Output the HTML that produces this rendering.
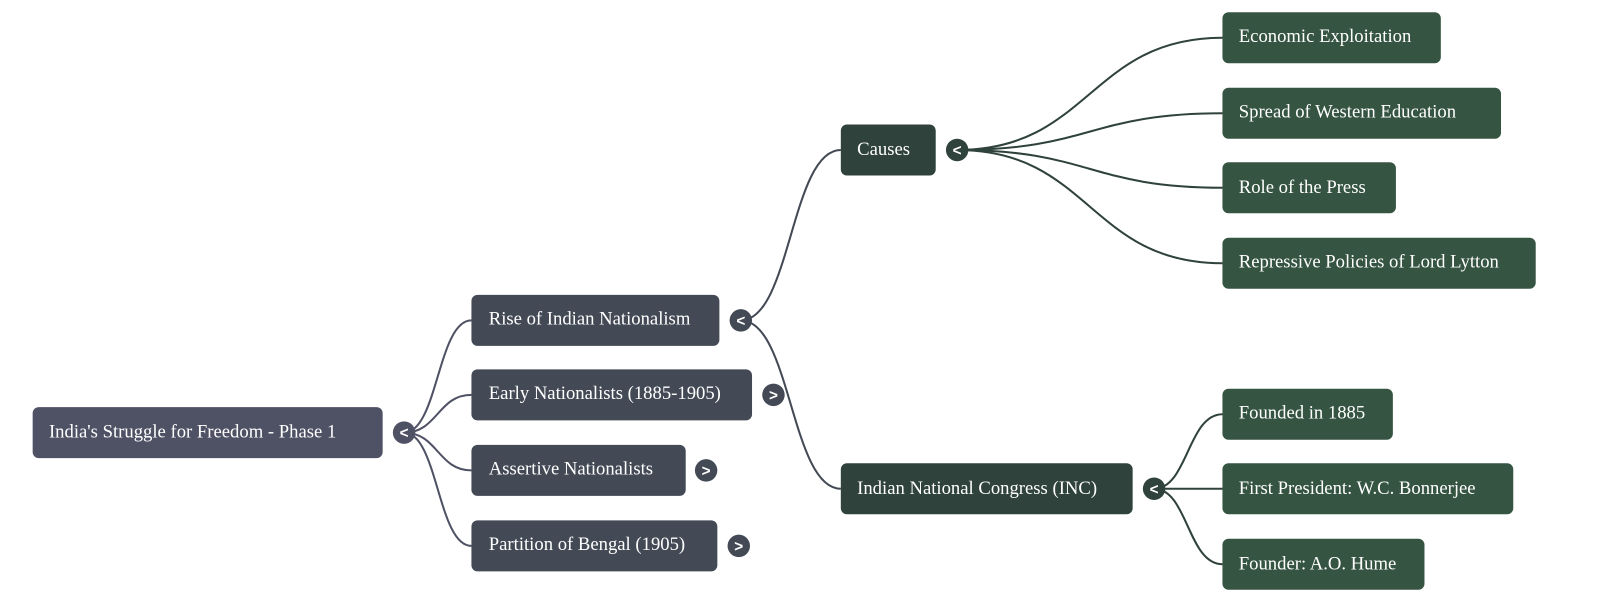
<!DOCTYPE html>
<html><head><meta charset="utf-8"><style>
html,body{margin:0;padding:0;background:#fff;width:1600px;height:602px;overflow:hidden}
svg text.t{font-family:"Liberation Serif","DejaVu Serif","Times New Roman",serif;font-size:18.3px;fill:#fff}
.c{font-family:"Liberation Sans",sans-serif;font-size:15px;font-weight:bold;fill:#fff}
</style></head><body>
<svg width="1600" height="602" viewBox="0 0 1568 590" preserveAspectRatio="none" xmlns="http://www.w3.org/2000/svg">
<g fill="none" stroke-width="2">
<g stroke="#4f5165">
<path d="M396 424 C429 424,429 314,462 314"/>
<path d="M396 424 C429 424,429 387,462 387"/>
<path d="M396 424 C429 424,429 461,462 461"/>
<path d="M396 424 C429 424,429 535,462 535"/>
</g>
<g stroke="#434a55">
<path d="M726 314 C775 314,775 147,824 147"/>
<path d="M726 314 C775 314,775 479,824 479"/>
</g>
<g stroke="#2f423c">
<path d="M938 147 C1068 147,1068 37,1198 37"/>
<path d="M938 147 C1068 147,1068 111,1198 111"/>
<path d="M938 147 C1068 147,1068 184,1198 184"/>
<path d="M938 147 C1068 147,1068 258,1198 258"/>
<path d="M1131 479 C1164 479,1164 406,1198 406"/>
<path d="M1131 479 L1198 479"/>
<path d="M1131 479 C1164 479,1164 553,1198 553"/>
</g>
</g>
<rect x="32" y="399" width="343" height="50" rx="6" fill="#4f5165"/>
<text class="t" x="48" y="429">India's Struggle for Freedom - Phase 1</text>
<g fill="#434a55">
<rect x="462" y="289" width="243" height="50" rx="6"/>
<rect x="462" y="362" width="275" height="50" rx="6"/>
<rect x="462" y="436" width="210" height="50" rx="6"/>
<rect x="462" y="510" width="241" height="50" rx="6"/>
</g>
<text class="t" x="479" y="318">Rise of Indian Nationalism</text>
<text class="t" x="479" y="391">Early Nationalists (1885-1905)</text>
<text class="t" x="479" y="465">Assertive Nationalists</text>
<text class="t" x="479" y="539">Partition of Bengal (1905)</text>
<g fill="#2f423c">
<rect x="824" y="122" width="93" height="50" rx="6"/>
<rect x="824" y="454" width="286" height="50" rx="6"/>
</g>
<text class="t" x="840" y="152">Causes</text>
<text class="t" x="840" y="484">Indian National Congress (INC)</text>
<g fill="#355441">
<rect x="1198" y="12" width="214" height="50" rx="6"/>
<rect x="1198" y="86" width="273" height="50" rx="6"/>
<rect x="1198" y="159" width="170" height="50" rx="6"/>
<rect x="1198" y="233" width="307" height="50" rx="6"/>
<rect x="1198" y="381" width="167" height="50" rx="6"/>
<rect x="1198" y="454" width="285" height="50" rx="6"/>
<rect x="1198" y="528" width="198" height="50" rx="6"/>
</g>
<text class="t" x="1214" y="41">Economic Exploitation</text>
<text class="t" x="1214" y="115">Spread of Western Education</text>
<text class="t" x="1214" y="189">Role of the Press</text>
<text class="t" x="1214" y="262">Repressive Policies of Lord Lytton</text>
<text class="t" x="1214" y="410">Founded in 1885</text>
<text class="t" x="1214" y="484">First President: W.C. Bonnerjee</text>
<text class="t" x="1214" y="558">Founder: A.O. Hume</text>
<circle cx="396" cy="424" r="11" fill="#4f5165"/><text class="c" x="396" y="429.5" text-anchor="middle">&lt;</text>
<circle cx="726" cy="314" r="11" fill="#434a55"/><text class="c" x="726" y="319.5" text-anchor="middle">&lt;</text>
<circle cx="758" cy="387" r="11" fill="#434a55"/><text class="c" x="758" y="392.5" text-anchor="middle">&gt;</text>
<circle cx="692" cy="461" r="11" fill="#434a55"/><text class="c" x="692" y="466.5" text-anchor="middle">&gt;</text>
<circle cx="724" cy="535" r="11" fill="#434a55"/><text class="c" x="724" y="540.5" text-anchor="middle">&gt;</text>
<circle cx="938" cy="147" r="11" fill="#2f423c"/><text class="c" x="938" y="152.5" text-anchor="middle">&lt;</text>
<circle cx="1131" cy="479" r="11" fill="#2f423c"/><text class="c" x="1131" y="484.5" text-anchor="middle">&lt;</text>
</svg>
</body></html>
